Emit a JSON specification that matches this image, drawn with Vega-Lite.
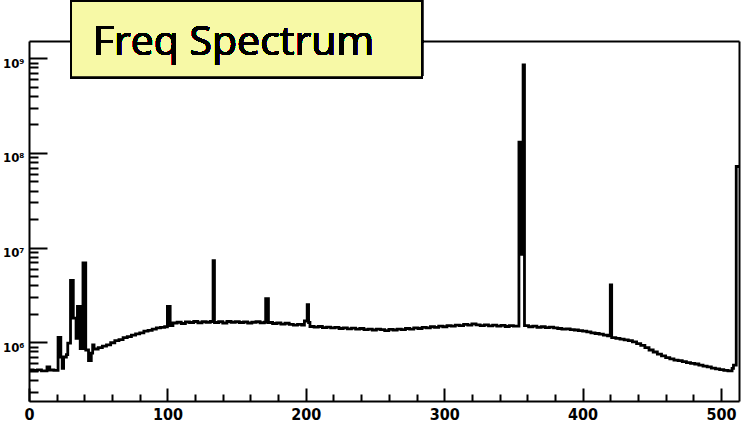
{
  "$schema": "https://vega.github.io/schema/vega-lite/v6.json",
  "width": 710,
  "height": 360,
  "autosize": "none",
  "padding": {"left": 29, "top": 41, "right": 5, "bottom": 24},
  "background": "white",
  "config": {"view": {"stroke": null}},
  "data": {
    "values": [
      {"bin": 0, "counts": 510000}, {"bin": 3, "counts": 505000}, {"bin": 6, "counts": 512000}, {"bin": 9, "counts": 500000},
      {"bin": 13, "counts": 550000}, {"bin": 15, "counts": 510000}, {"bin": 18, "counts": 505000},
      {"bin": 21, "counts": 1130000}, {"bin": 23, "counts": 700000}, {"bin": 24, "counts": 530000}, {"bin": 25, "counts": 700000},
      {"bin": 27, "counts": 740000}, {"bin": 28, "counts": 980000}, {"bin": 30, "counts": 4500000}, {"bin": 32, "counts": 1800000},
      {"bin": 34, "counts": 1100000}, {"bin": 35, "counts": 2400000}, {"bin": 37, "counts": 860000}, {"bin": 39, "counts": 6900000},
      {"bin": 41, "counts": 830000}, {"bin": 43, "counts": 640000}, {"bin": 45, "counts": 770000}, {"bin": 46, "counts": 940000},
      {"bin": 47, "counts": 850000}, {"bin": 50, "counts": 880000}, {"bin": 53, "counts": 910000}, {"bin": 56, "counts": 940000},
      {"bin": 59, "counts": 990000}, {"bin": 62, "counts": 1040000}, {"bin": 65, "counts": 1070000}, {"bin": 68, "counts": 1120000},
      {"bin": 71, "counts": 1150000}, {"bin": 74, "counts": 1190000}, {"bin": 77, "counts": 1230000}, {"bin": 80, "counts": 1260000},
      {"bin": 83, "counts": 1310000}, {"bin": 86, "counts": 1340000}, {"bin": 89, "counts": 1380000}, {"bin": 92, "counts": 1420000},
      {"bin": 95, "counts": 1440000}, {"bin": 98, "counts": 1460000}, {"bin": 100, "counts": 2400000}, {"bin": 102, "counts": 1500000},
      {"bin": 104, "counts": 1600000}, {"bin": 107, "counts": 1630000}, {"bin": 110, "counts": 1580000}, {"bin": 113, "counts": 1640000},
      {"bin": 116, "counts": 1620000}, {"bin": 119, "counts": 1660000}, {"bin": 122, "counts": 1610000}, {"bin": 125, "counts": 1650000},
      {"bin": 128, "counts": 1630000}, {"bin": 131, "counts": 1660000}, {"bin": 133, "counts": 7300000}, {"bin": 134, "counts": 1620000},
      {"bin": 137, "counts": 1650000}, {"bin": 140, "counts": 1600000}, {"bin": 143, "counts": 1660000}, {"bin": 146, "counts": 1630000},
      {"bin": 149, "counts": 1650000}, {"bin": 152, "counts": 1620000}, {"bin": 155, "counts": 1640000}, {"bin": 158, "counts": 1600000},
      {"bin": 161, "counts": 1630000}, {"bin": 164, "counts": 1650000}, {"bin": 167, "counts": 1610000}, {"bin": 170, "counts": 1630000},
      {"bin": 171, "counts": 2900000}, {"bin": 173, "counts": 1620000}, {"bin": 176, "counts": 1580000}, {"bin": 179, "counts": 1600000},
      {"bin": 182, "counts": 1560000}, {"bin": 185, "counts": 1590000}, {"bin": 188, "counts": 1550000}, {"bin": 191, "counts": 1520000},
      {"bin": 194, "counts": 1550000}, {"bin": 197, "counts": 1520000}, {"bin": 199, "counts": 1680000}, {"bin": 201, "counts": 2500000},
      {"bin": 202, "counts": 1620000}, {"bin": 203, "counts": 1470000}, {"bin": 206, "counts": 1450000}, {"bin": 209, "counts": 1470000},
      {"bin": 212, "counts": 1430000}, {"bin": 215, "counts": 1450000}, {"bin": 218, "counts": 1420000}, {"bin": 221, "counts": 1440000},
      {"bin": 224, "counts": 1400000}, {"bin": 227, "counts": 1420000}, {"bin": 230, "counts": 1390000}, {"bin": 233, "counts": 1410000},
      {"bin": 236, "counts": 1380000}, {"bin": 239, "counts": 1400000}, {"bin": 242, "counts": 1360000}, {"bin": 245, "counts": 1380000},
      {"bin": 248, "counts": 1350000}, {"bin": 251, "counts": 1380000}, {"bin": 254, "counts": 1360000}, {"bin": 257, "counts": 1330000},
      {"bin": 260, "counts": 1370000}, {"bin": 263, "counts": 1350000}, {"bin": 266, "counts": 1380000}, {"bin": 269, "counts": 1360000},
      {"bin": 272, "counts": 1400000}, {"bin": 275, "counts": 1380000}, {"bin": 278, "counts": 1420000}, {"bin": 281, "counts": 1400000},
      {"bin": 284, "counts": 1440000}, {"bin": 287, "counts": 1420000}, {"bin": 290, "counts": 1460000}, {"bin": 293, "counts": 1440000},
      {"bin": 296, "counts": 1480000}, {"bin": 299, "counts": 1460000}, {"bin": 302, "counts": 1500000}, {"bin": 305, "counts": 1480000},
      {"bin": 308, "counts": 1520000}, {"bin": 311, "counts": 1500000}, {"bin": 314, "counts": 1550000}, {"bin": 317, "counts": 1520000},
      {"bin": 320, "counts": 1570000}, {"bin": 323, "counts": 1530000}, {"bin": 326, "counts": 1500000}, {"bin": 329, "counts": 1530000},
      {"bin": 332, "counts": 1490000}, {"bin": 335, "counts": 1520000}, {"bin": 338, "counts": 1480000}, {"bin": 341, "counts": 1510000},
      {"bin": 344, "counts": 1470000}, {"bin": 347, "counts": 1500000}, {"bin": 350, "counts": 1480000},
      {"bin": 354, "counts": 130000000}, {"bin": 355, "counts": 8500000}, {"bin": 357, "counts": 850000000}, {"bin": 358, "counts": 1500000},
      {"bin": 361, "counts": 1460000}, {"bin": 364, "counts": 1480000}, {"bin": 367, "counts": 1440000}, {"bin": 370, "counts": 1460000},
      {"bin": 373, "counts": 1430000}, {"bin": 376, "counts": 1450000}, {"bin": 379, "counts": 1420000}, {"bin": 382, "counts": 1400000},
      {"bin": 385, "counts": 1380000}, {"bin": 388, "counts": 1390000}, {"bin": 391, "counts": 1360000}, {"bin": 394, "counts": 1350000},
      {"bin": 397, "counts": 1330000}, {"bin": 400, "counts": 1310000}, {"bin": 403, "counts": 1290000}, {"bin": 406, "counts": 1260000},
      {"bin": 409, "counts": 1240000}, {"bin": 412, "counts": 1220000}, {"bin": 415, "counts": 1190000}, {"bin": 418, "counts": 1170000},
      {"bin": 420, "counts": 4040000}, {"bin": 421, "counts": 1120000}, {"bin": 424, "counts": 1100000}, {"bin": 427, "counts": 1080000},
      {"bin": 430, "counts": 1060000}, {"bin": 433, "counts": 1040000}, {"bin": 436, "counts": 1010000}, {"bin": 439, "counts": 970000},
      {"bin": 442, "counts": 930000}, {"bin": 445, "counts": 880000}, {"bin": 448, "counts": 830000}, {"bin": 451, "counts": 790000},
      {"bin": 454, "counts": 750000}, {"bin": 457, "counts": 720000}, {"bin": 460, "counts": 690000}, {"bin": 463, "counts": 670000},
      {"bin": 466, "counts": 650000}, {"bin": 469, "counts": 640000}, {"bin": 472, "counts": 625000}, {"bin": 475, "counts": 610000},
      {"bin": 478, "counts": 600000}, {"bin": 481, "counts": 590000}, {"bin": 484, "counts": 575000}, {"bin": 487, "counts": 560000},
      {"bin": 490, "counts": 550000}, {"bin": 493, "counts": 535000}, {"bin": 496, "counts": 525000}, {"bin": 499, "counts": 515000},
      {"bin": 502, "counts": 505000}, {"bin": 505, "counts": 500000}, {"bin": 508, "counts": 530000}, {"bin": 509, "counts": 575000},
      {"bin": 511, "counts": 72000000}, {"bin": 513, "counts": 72000000}
    ]
  },
  "layer": [
    {
      "mark": {"type": "line", "interpolate": "step-after", "color": "black", "strokeWidth": 2.8, "strokeJoin": "miter"},
      "encoding": {
        "x": {
          "field": "bin", "type": "quantitative",
          "scale": {"domain": [0, 513], "nice": false, "zero": false},
          "axis": {
            "orient": "bottom", "values": [0, 100, 200, 300, 400, 500], "ticks": false, "grid": false, "title": null,
            "domain": true, "domainColor": "black", "domainWidth": 2,
            "labelFont": "Liberation Sans Narrow, DejaVu Sans Condensed, sans-serif", "labelFontSize": 16, "labelFontWeight": "bold",
            "labelColor": "black", "labelPadding": 5, "labelFlush": false
          }
        },
        "y": {
          "field": "counts", "type": "quantitative",
          "scale": {"type": "log", "domain": [240000, 1523000000], "nice": false},
          "axis": {
            "orient": "left", "values": [1000000, 10000000, 100000000, 1000000000], "ticks": false, "grid": false, "title": null,
            "domain": true, "domainColor": "black", "domainWidth": 2,
            "labelExpr": "'10' + (datum.value > 5e8 ? '⁹' : datum.value > 5e7 ? '⁸' : datum.value > 5e6 ? '⁷' : '⁶')",
            "labelFont": "Liberation Sans Narrow, DejaVu Sans Condensed, sans-serif", "labelFontSize": 13, "labelFontWeight": "bold",
            "labelColor": "black", "labelPadding": 5, "labelBaseline": "middle", "labelOffset": 5
          }
        }
      }
    },
    {
      "mark": {"type": "line", "opacity": 0},
      "encoding": {
        "x": {
          "field": "bin", "type": "quantitative",
          "axis": {
            "orient": "bottom", "tickSize": -13, "tickWidth": 2, "tickColor": "black",
            "values": [0, 100, 200, 300, 400, 500], "labels": false, "domain": false, "grid": false, "title": null
          }
        },
        "y": {
          "field": "counts", "type": "quantitative",
          "axis": {
            "orient": "left", "tickSize": -18, "tickWidth": 2, "tickColor": "black",
            "values": [1000000, 10000000, 100000000, 1000000000], "labels": false, "domain": false, "grid": false, "title": null
          }
        }
      }
    },
    {
      "mark": {"type": "line", "opacity": 0},
      "encoding": {
        "x": {
          "field": "bin", "type": "quantitative",
          "axis": {
            "orient": "bottom", "tickSize": -7, "tickWidth": 2, "tickColor": "black",
            "values": [20, 40, 60, 80, 120, 140, 160, 180, 220, 240, 260, 280, 320, 340, 360, 380, 420, 440, 460, 480],
            "labels": false, "domain": false, "grid": false, "title": null
          }
        },
        "y": {
          "field": "counts", "type": "quantitative",
          "axis": {
            "orient": "left", "tickSize": -9, "tickWidth": 2, "tickColor": "black",
            "values": [300000, 400000, 500000, 600000, 700000, 800000, 900000,
                       2000000, 3000000, 4000000, 5000000, 6000000, 7000000, 8000000, 9000000,
                       20000000, 30000000, 40000000, 50000000, 60000000, 70000000, 80000000, 90000000,
                       200000000, 300000000, 400000000, 500000000, 600000000, 700000000, 800000000, 900000000],
            "labels": false, "domain": false, "grid": false, "title": null
          }
        }
      }
    },
    {
      "mark": {"type": "line", "opacity": 0},
      "encoding": {
        "x": {
          "field": "bin", "type": "quantitative",
          "axis": {"orient": "top", "ticks": false, "labels": false, "grid": false, "title": null, "domain": true, "domainColor": "black", "domainWidth": 2}
        },
        "y": {
          "field": "counts", "type": "quantitative",
          "axis": {"orient": "right", "ticks": false, "labels": false, "grid": false, "title": null, "domain": true, "domainColor": "black", "domainWidth": 2}
        }
      }
    },
    {
      "mark": {"type": "rect", "fill": "#f7f9a6", "stroke": "black", "strokeWidth": 2, "clip": false},
      "encoding": {
        "x": {"datum": 30.35, "type": "quantitative", "axis": null},
        "x2": {"datum": 283.96},
        "y": {"datum": 630000000, "type": "quantitative", "axis": null},
        "y2": {"datum": 4030000000}
      }
    },
    {
      "mark": {"type": "text", "text": "Freq Spectrum", "font": "Open Sans", "fontSize": 41, "fontWeight": "normal", "color": "black", "align": "center", "baseline": "alphabetic", "clip": false},
      "encoding": {
        "x": {"datum": 147.8, "type": "quantitative", "axis": null},
        "y": {"datum": 1083000000, "type": "quantitative", "axis": null}
      }
    }
  ],
  "resolve": {"axis": {"x": "independent", "y": "independent"}}
}
